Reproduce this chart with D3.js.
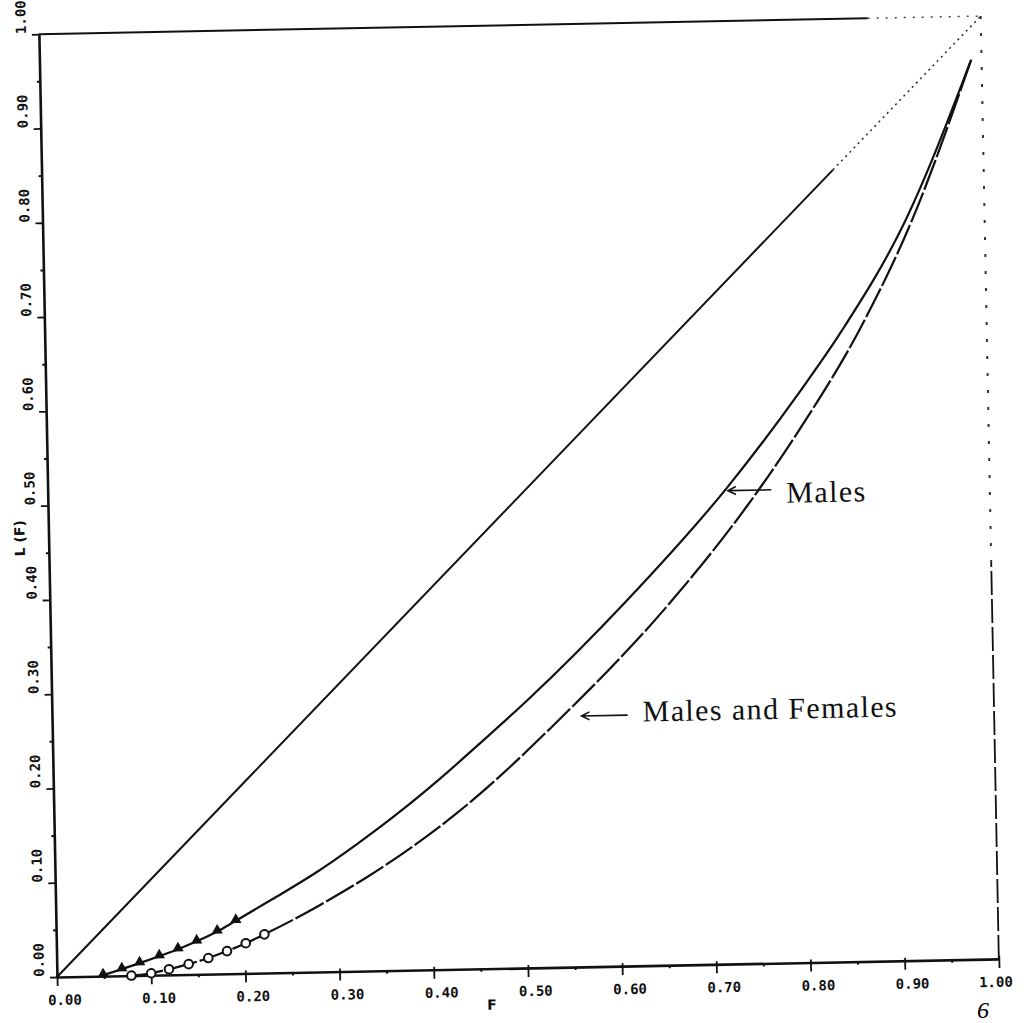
<!DOCTYPE html>
<html lang="en">
<head>
<meta charset="UTF-8">
<title>Lorenz curves L(F)</title>
<script src="https://d3js.org/d3.v7.min.js"></script>
<style>
  body { margin: 0; background: #fff; }
  svg { display: block; }
  .axis text { font-family: "DejaVu Sans Mono", monospace; font-weight: bold; fill: #111; }
  .axis path, .axis line { stroke: #111; }
  .note { font-family: "Liberation Serif", serif; font-size: 30px; letter-spacing: 1.4px; fill: #111; }
  .title { font-family: "DejaVu Sans", sans-serif; font-weight: bold; font-size: 14px; fill: #111; }
</style>
</head>
<body>
<svg id="chart" width="1025" height="1023"></svg>
<script>
// tick values and labels (same on both axes)
const tickValues = [0, 0.1, 0.2, 0.3, 0.4, 0.5, 0.6, 0.7, 0.8, 0.9, 1.0];
const tickLabels = ["0.00", "0.10", "0.20", "0.30", "0.40", "0.50", "0.60", "0.70", "0.80", "0.90", "1.00"];
const minorTicks = [0.05, 0.15, 0.25, 0.35, 0.45, 0.55, 0.65, 0.75, 0.85, 0.95];

// Males: triangle markers, then the rest of the curve
const malesMarkF = [0.049, 0.069, 0.088, 0.109, 0.129, 0.149, 0.171, 0.191];
const malesMarkL = [0.001, 0.007, 0.013, 0.020, 0.027, 0.035, 0.045, 0.056];
const malesF = [0.230, 0.278, 0.320, 0.367, 0.410, 0.457, 0.504, 0.612, 0.721, 0.800, 0.846, 0.915, 0.989];
const malesL = [0.078, 0.106, 0.134, 0.168, 0.202, 0.242, 0.283, 0.387, 0.505, 0.605, 0.669, 0.783, 0.954];

// Males and Females: circle markers, then the rest of the curve
const bothMarkF = [0.079, 0.100, 0.119, 0.140, 0.161, 0.181, 0.201, 0.221];
const bothMarkL = [0.000, 0.002, 0.006, 0.011, 0.017, 0.024, 0.032, 0.041];
const bothF = [0.277, 0.330, 0.377, 0.427, 0.480, 0.528, 0.658, 0.741, 0.799, 0.865, 0.922, 0.989];
const bothL = [0.069, 0.099, 0.129, 0.165, 0.209, 0.253, 0.384, 0.484, 0.565, 0.670, 0.783, 0.954];

// labels with arrows, in data units
const notes = [
  { text: "Males", tipF: 0.722, tipL: 0.502, tailF: 0.768, textF: 0.784, textL: 0.488 },
  { text: "Males and Females", tipF: 0.562, tipL: 0.266, tailF: 0.611, textF: 0.627, textL: 0.259 }
];

const svg = d3.select('#chart');
const x = d3.scaleLinear().domain([0, 1]).range([0, 942]);
const y = d3.scaleLinear().domain([0, 1]).range([0, -943]);

// the scanned plot sits slightly tilted on the page
const g = svg.append('g').attr('transform', 'translate(57,977) rotate(-1.1)');

const zip = (fs, ls) => fs.map((f, i) => [f, ls[i]]);
const line = d3.line().x(d => x(d[0])).y(d => y(d[1])).curve(d3.curveMonotoneX);
const seg = d3.line().x(d => x(d[0])).y(d => y(d[1]));

// frame: top and right sides (faded in the scan near the corner)
g.append('path').attr('d', seg([[0, 1], [0.88, 1]]))
  .attr('fill', 'none').attr('stroke', '#111').attr('stroke-width', 2);
g.append('path').attr('d', seg([[0.88, 1], [1, 1]]))
  .attr('fill', 'none').attr('stroke', '#444').attr('stroke-width', 1.5).attr('stroke-dasharray', '2,7');
g.append('path').attr('d', seg([[1, 0], [1, 0.42]]))
  .attr('fill', 'none').attr('stroke', '#111').attr('stroke-width', 1.8).attr('stroke-dasharray', '24,4');
g.append('path').attr('d', seg([[1, 0.42], [1, 1]]))
  .attr('fill', 'none').attr('stroke', '#333').attr('stroke-width', 2).attr('stroke-dasharray', '3,14');

// minor ticks
g.append('g').attr('class', 'axis')
  .call(d3.axisBottom(x).tickValues(minorTicks).tickSize(3).tickFormat(''))
  .call(s => s.select('.domain').remove())
  .selectAll('line').attr('stroke-width', 2);
g.append('g').attr('class', 'axis')
  .call(d3.axisLeft(y).tickValues(minorTicks).tickSize(3).tickFormat(''))
  .call(s => s.select('.domain').remove())
  .selectAll('line').attr('stroke-width', 2);

// bottom axis
const xAxis = g.append('g').attr('class', 'axis')
  .call(d3.axisBottom(x).tickValues(tickValues).tickSizeInner(9).tickSizeOuter(0)
    .tickFormat((d, i) => tickLabels[i]));
xAxis.select('.domain').attr('stroke-width', 2.6);
xAxis.selectAll('.tick line').attr('stroke-width', 1.8).attr('y1', -3);
xAxis.selectAll('.tick text')
  .attr('text-anchor', (d, i) => i === tickValues.length - 1 ? 'end' : 'middle')
  .attr('x', (d, i) => i === tickValues.length - 1 ? 13 : 7)
  .attr('y', 28).attr('dy', 0)
  .style('font-size', '14px');

// left axis
const yAxis = g.append('g').attr('class', 'axis')
  .call(d3.axisLeft(y).tickValues(tickValues).tickSizeInner(7).tickSizeOuter(0)
    .tickFormat((d, i) => tickLabels[i]));
yAxis.select('.domain').attr('stroke-width', 2.6);
yAxis.selectAll('.tick line').attr('stroke-width', 1.8);
yAxis.selectAll('.tick text')
  .attr('transform', 'rotate(-90)').attr('text-anchor', 'start')
  .attr('x', 1).attr('y', -13).attr('dy', 0)
  .style('font-size', '14px');

// axis titles
g.append('text').attr('class', 'title')
  .attr('x', x(0.461)).attr('y', 41).attr('text-anchor', 'middle').text('F');
g.append('text').attr('class', 'title')
  .attr('transform', `translate(-24,${y(0.466)}) rotate(-90)`)
  .attr('text-anchor', 'middle').text('L (F)');

// line of equality
g.append('path').attr('d', seg([[0, 0], [0.84, 0.84]]))
  .attr('fill', 'none').attr('stroke', '#111').attr('stroke-width', 2);
g.append('path').attr('d', seg([[0.84, 0.84], [1, 1]]))
  .attr('fill', 'none').attr('stroke', '#333').attr('stroke-width', 1.6).attr('stroke-dasharray', '2,4');

// Males curve (solid)
g.append('path')
  .attr('d', line(zip(malesMarkF, malesMarkL).concat(zip(malesF, malesL))))
  .attr('fill', 'none').attr('stroke', '#111').attr('stroke-width', 2.2);

// Males and Females curve (dashed)
g.append('path')
  .attr('d', line(zip(bothMarkF, bothMarkL).concat(zip(bothF, bothL))))
  .attr('fill', 'none').attr('stroke', '#111').attr('stroke-width', 2.2)
  .attr('stroke-dasharray', '32,3');

// markers
g.selectAll('path.tri')
  .data(zip(malesMarkF, malesMarkL))
  .join('path').attr('class', 'tri')
  .attr('transform', d => `translate(${x(d[0])},${y(d[1]) - 1})`)
  .attr('d', d3.symbol(d3.symbolTriangle).size(55))
  .attr('fill', '#111');

g.selectAll('circle.dot')
  .data(zip(bothMarkF, bothMarkL))
  .join('circle').attr('class', 'dot')
  .attr('cx', d => x(d[0])).attr('cy', d => y(d[1]))
  .attr('r', 4.3)
  .attr('fill', '#fff').attr('stroke', '#111').attr('stroke-width', 2);

// labels with arrows
notes.forEach(n => {
  const tx = x(n.tipF), ty = y(n.tipL);
  g.append('path')
    .attr('d', `M${x(n.tailF)},${ty}H${tx}M${tx + 8},${ty - 4}L${tx},${ty}L${tx + 8},${ty + 4}`)
    .attr('fill', 'none').attr('stroke', '#111').attr('stroke-width', 1.6);
  g.append('text').attr('class', 'note')
    .attr('x', x(n.textF)).attr('y', y(n.textL)).text(n.text);
});

// page number
svg.append('text')
  .attr('x', 977).attr('y', 1018)
  .style('font-family', '"Liberation Serif", serif').style('font-style', 'italic')
  .style('font-size', '24px').text('6');
</script>
</body>
</html>
